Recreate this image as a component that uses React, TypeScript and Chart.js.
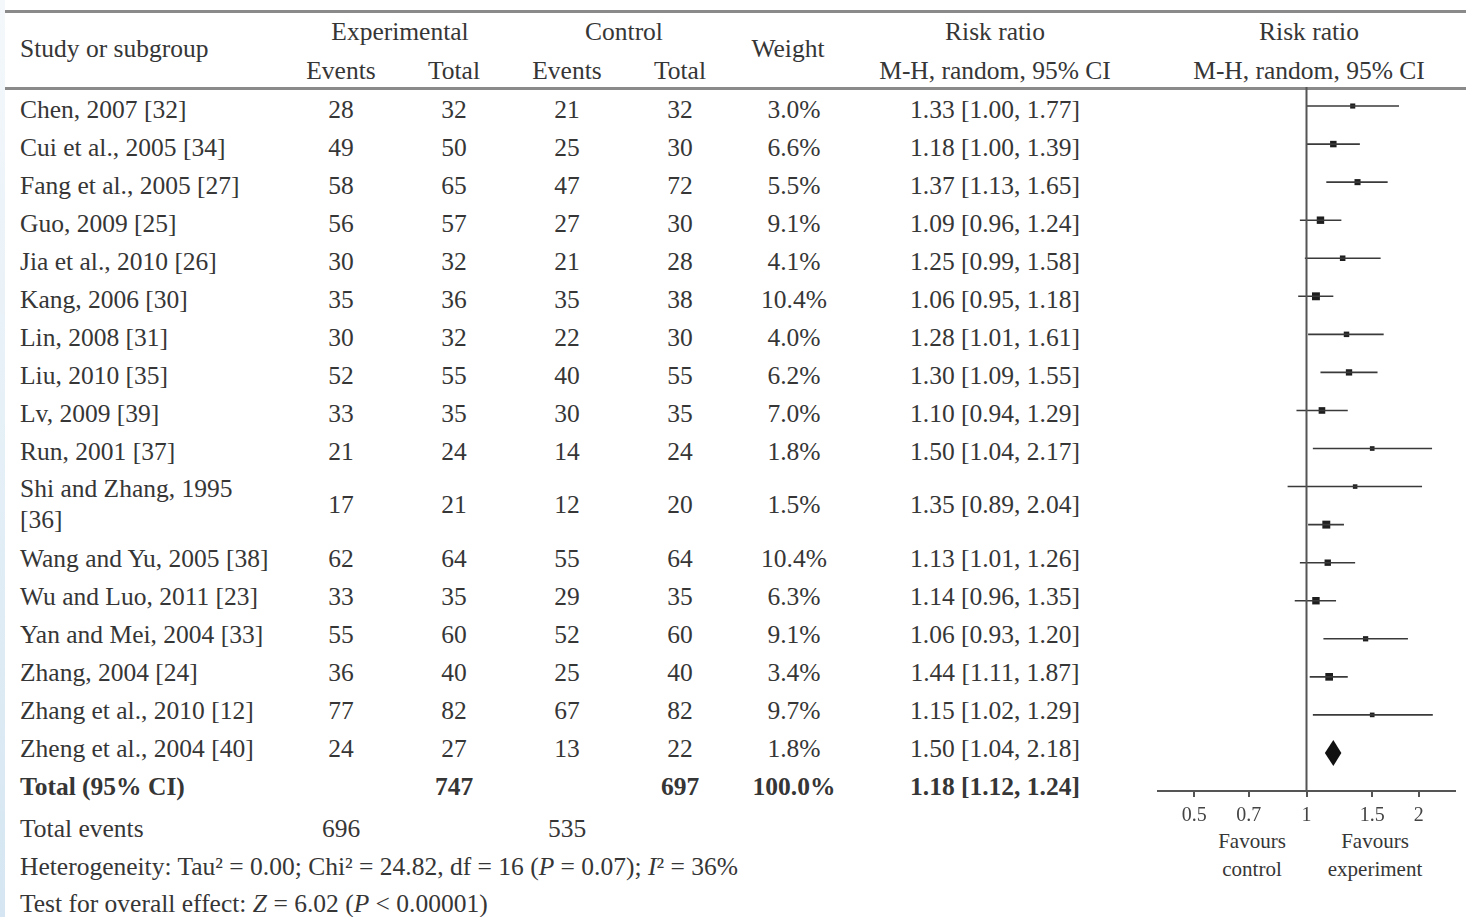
import React, { useEffect, useRef } from "react";
import { Chart, registerables } from "chart.js";

Chart.register(...registerables);

const studies = [
  "Chen, 2007 [32]",
  "Cui et al., 2005 [34]",
  "Fang et al., 2005 [27]",
  "Guo, 2009 [25]",
  "Jia et al., 2010 [26]",
  "Kang, 2006 [30]",
  "Lin, 2008 [31]",
  "Liu, 2010 [35]",
  "Lv, 2009 [39]",
  "Run, 2001 [37]",
  "Shi and Zhang, 1995\n[36]",
  "Wang and Yu, 2005 [38]",
  "Wu and Luo, 2011 [23]",
  "Yan and Mei, 2004 [33]",
  "Zhang, 2004 [24]",
  "Zhang et al., 2010 [12]",
  "Zheng et al., 2004 [40]",
];
const expEvents = [28, 49, 58, 56, 30, 35, 30, 52, 33, 21, 17, 62, 33, 55, 36, 77, 24];
const expTotal = [32, 50, 65, 57, 32, 36, 32, 55, 35, 24, 21, 64, 35, 60, 40, 82, 27];
const ctrlEvents = [21, 25, 47, 27, 21, 35, 22, 40, 30, 14, 12, 55, 29, 52, 25, 67, 13];
const ctrlTotal = [32, 30, 72, 30, 28, 38, 30, 55, 35, 24, 20, 64, 35, 60, 40, 82, 22];
const weights = [3.0, 6.6, 5.5, 9.1, 4.1, 10.4, 4.0, 6.2, 7.0, 1.8, 1.5, 10.4, 6.3, 9.1, 3.4, 9.7, 1.8];
const rr = [1.33, 1.18, 1.37, 1.09, 1.25, 1.06, 1.28, 1.3, 1.1, 1.5, 1.35, 1.13, 1.14, 1.06, 1.44, 1.15, 1.5];
const rrLow = [1.0, 1.0, 1.13, 0.96, 0.99, 0.95, 1.01, 1.09, 0.94, 1.04, 0.89, 1.01, 0.96, 0.93, 1.11, 1.02, 1.04];
const rrHigh = [1.77, 1.39, 1.65, 1.24, 1.58, 1.18, 1.61, 1.55, 1.29, 2.17, 2.04, 1.26, 1.35, 1.2, 1.87, 1.29, 2.18];

const totalExp = 747;
const totalCtrl = 697;
const totalWeight = "100.0%";
const totalRR = [1.18, 1.12, 1.24]; // estimate, low, high
const totalEventsExp = 696;
const totalEventsCtrl = 535;

const tickValues = [0.5, 0.7, 1, 1.5, 2];
const tickLabels = ["0.5", "0.7", "1", "1.5", "2"];

const FONT = "'Liberation Serif', 'Times New Roman', serif";
const TXT = "#363636";

const rowY = (i: number) => (i < 10 ? 109 + 38 * i : i === 10 ? 504 : 558 + 38 * (i - 11));

const fmt2 = (v: number) => v.toFixed(2);

function T({
  x,
  y,
  children,
  align = "center",
  bold = false,
  size = 25.5,
  lines = 1,
}: {
  x: number;
  y: number;
  children: React.ReactNode;
  align?: "left" | "center";
  bold?: boolean;
  size?: number;
  lines?: number;
}) {
  const lh = 31;
  return (
    <div
      style={{
        position: "absolute",
        left: x,
        top: y - (lh * lines) / 2,
        lineHeight: lh + "px",
        fontSize: size,
        fontFamily: FONT,
        fontWeight: bold ? "bold" : "normal",
        color: TXT,
        whiteSpace: "pre",
        transform: align === "center" ? "translateX(-50%)" : undefined,
        textAlign: align,
      }}
    >
      {children}
    </div>
  );
}

export default function App() {
  const canvasRef = useRef<HTMLCanvasElement | null>(null);

  useEffect(() => {
    const canvas = canvasRef.current;
    if (!canvas) return;

    const diamondPlugin = {
      id: "diamond",
      afterDatasetsDraw(chart: any) {
        const xs = chart.scales.x;
        const ys = chart.scales.y;
        const ctx = chart.ctx;
        const cy = ys.getPixelForValue(studies.length);
        const half = 13;
        ctx.save();
        ctx.beginPath();
        ctx.moveTo(xs.getPixelForValue(totalRR[1]), cy);
        ctx.lineTo(xs.getPixelForValue(totalRR[0]), cy - half);
        ctx.lineTo(xs.getPixelForValue(totalRR[2]), cy);
        ctx.lineTo(xs.getPixelForValue(totalRR[0]), cy + half);
        ctx.closePath();
        ctx.fillStyle = "#111";
        ctx.fill();
        ctx.restore();
      },
    };

    const ciSets = rr.map((_, i) => ({
      type: "line" as const,
      data: [
        { x: rrLow[i], y: i },
        { x: rrHigh[i], y: i },
      ],
      showLine: true,
      borderColor: "#3a3a3a",
      borderWidth: 1.6,
      pointRadius: 0,
      fill: false,
    }));

    const chart = new Chart(canvas, {
      type: "scatter",
      data: {
        datasets: [
          {
            type: "line",
            data: [
              { x: 1, y: -0.5 },
              { x: 1, y: 18 },
            ],
            showLine: true,
            borderColor: "#555",
            borderWidth: 2,
            pointRadius: 0,
          } as any,
          ...ciSets,
          {
            type: "scatter",
            data: rr.map((v, i) => ({ x: v, y: i })),
            pointStyle: "rect",
            pointRadius: weights.map((w) => 2.8 + 0.27 * w),
            backgroundColor: "#1e1e1e",
            borderWidth: 0,
          } as any,
        ],
      },
      options: {
        animation: false,
        responsive: false,
        devicePixelRatio: 1,
        events: [],
        layout: { padding: { left: 8, right: 11, top: 87, bottom: 86 } },
        plugins: { legend: { display: false }, tooltip: { enabled: false } },
        scales: {
          x: {
            type: "logarithmic",
            min: 0.4,
            max: 2.5,
            afterBuildTicks: (scale: any) => {
              scale.ticks = tickValues.map((v) => ({ value: v }));
            },
            afterFit: (scale: any) => {
              scale.height = 40;
            },
            ticks: {
              autoSkip: false,
              maxRotation: 0,
              padding: 7,
              color: "#444",
              font: { family: FONT, size: 20 },
              callback: (_v: any, idx: number) => tickLabels[idx],
            },
            grid: {
              display: true,
              drawOnChartArea: false,
              drawTicks: true,
              tickLength: 6,
              color: "#555",
              lineWidth: 2,
            },
            border: { display: true, color: "#555", width: 2 },
          },
          y: {
            type: "linear",
            reverse: true,
            min: -0.5,
            max: 18,
            display: false,
          },
        },
      } as any,
      plugins: [diamondPlugin],
    });

    return () => chart.destroy();
  }, []);

  const cols = { ee: 341, et: 454, ce: 567, ct: 680, w: 794, rr: 995 };

  return (
    <div
      style={{
        position: "absolute",
        left: 0,
        top: 0,
        width: 1466,
        height: 917,
        background: "#fff",
        overflow: "hidden",
      }}
    >
      <div
        style={{
          position: "absolute",
          left: 0,
          top: 0,
          width: 5,
          height: 917,
          background: "linear-gradient(to bottom, #f4f8fb, #d5e6f2)",
        }}
      />
      {/* rules */}
      <div style={{ position: "absolute", left: 5, top: 10, width: 1461, height: 3, background: "#8a8a8a" }} />
      <div style={{ position: "absolute", left: 5, top: 87, width: 1461, height: 3, background: "#8a8a8a" }} />

      {/* header */}
      <T x={20} y={48} align="left">Study or subgroup</T>
      <T x={400} y={31}>Experimental</T>
      <T x={cols.ee} y={70}>Events</T>
      <T x={cols.et} y={70}>Total</T>
      <T x={624} y={31}>Control</T>
      <T x={cols.ce} y={70}>Events</T>
      <T x={cols.ct} y={70}>Total</T>
      <T x={788} y={48}>Weight</T>
      <T x={cols.rr} y={31}>Risk ratio</T>
      <T x={cols.rr} y={70}>M-H, random, 95% CI</T>
      <T x={1309} y={31}>Risk ratio</T>
      <T x={1309} y={70}>M-H, random, 95% CI</T>

      {/* rows */}
      {studies.map((s, i) => (
        <React.Fragment key={i}>
          <T x={20} y={rowY(i)} align="left" lines={s.split("\n").length}>{s}</T>
          <T x={cols.ee} y={rowY(i)}>{expEvents[i]}</T>
          <T x={cols.et} y={rowY(i)}>{expTotal[i]}</T>
          <T x={cols.ce} y={rowY(i)}>{ctrlEvents[i]}</T>
          <T x={cols.ct} y={rowY(i)}>{ctrlTotal[i]}</T>
          <T x={cols.w} y={rowY(i)}>{weights[i].toFixed(1) + "%"}</T>
          <T x={cols.rr} y={rowY(i)}>{`${fmt2(rr[i])} [${fmt2(rrLow[i])}, ${fmt2(rrHigh[i])}]`}</T>
        </React.Fragment>
      ))}

      {/* total */}
      <T x={20} y={786} align="left" bold>Total (95% CI)</T>
      <T x={cols.et} y={786} bold>{totalExp}</T>
      <T x={cols.ct} y={786} bold>{totalCtrl}</T>
      <T x={cols.w} y={786} bold>{totalWeight}</T>
      <T x={cols.rr} y={786} bold>{`${fmt2(totalRR[0])} [${fmt2(totalRR[1])}, ${fmt2(totalRR[2])}]`}</T>

      <T x={20} y={828} align="left">Total events</T>
      <T x={cols.ee} y={828}>{totalEventsExp}</T>
      <T x={cols.ce} y={828}>{totalEventsCtrl}</T>
      <T x={20} y={866} align="left">
        <>Heterogeneity: Tau² = 0.00; Chi² = 24.82, df = 16 (<i>P</i> = 0.07); <i>I</i>² = 36%</>
      </T>
      <T x={20} y={903} align="left">
        <>Test for overall effect: <i>Z</i> = 6.02 (<i>P</i> &lt; 0.00001)</>
      </T>

      {/* favours labels */}
      <T x={1252} y={841} size={21}>Favours</T>
      <T x={1252} y={869} size={21}>control</T>
      <T x={1375} y={841} size={21}>Favours</T>
      <T x={1375} y={869} size={21}>experiment</T>

      <canvas
        ref={canvasRef}
        width={316}
        height={917}
        style={{ position: "absolute", left: 1150, top: 0, width: 316, height: 917 }}
      />
    </div>
  );
}
